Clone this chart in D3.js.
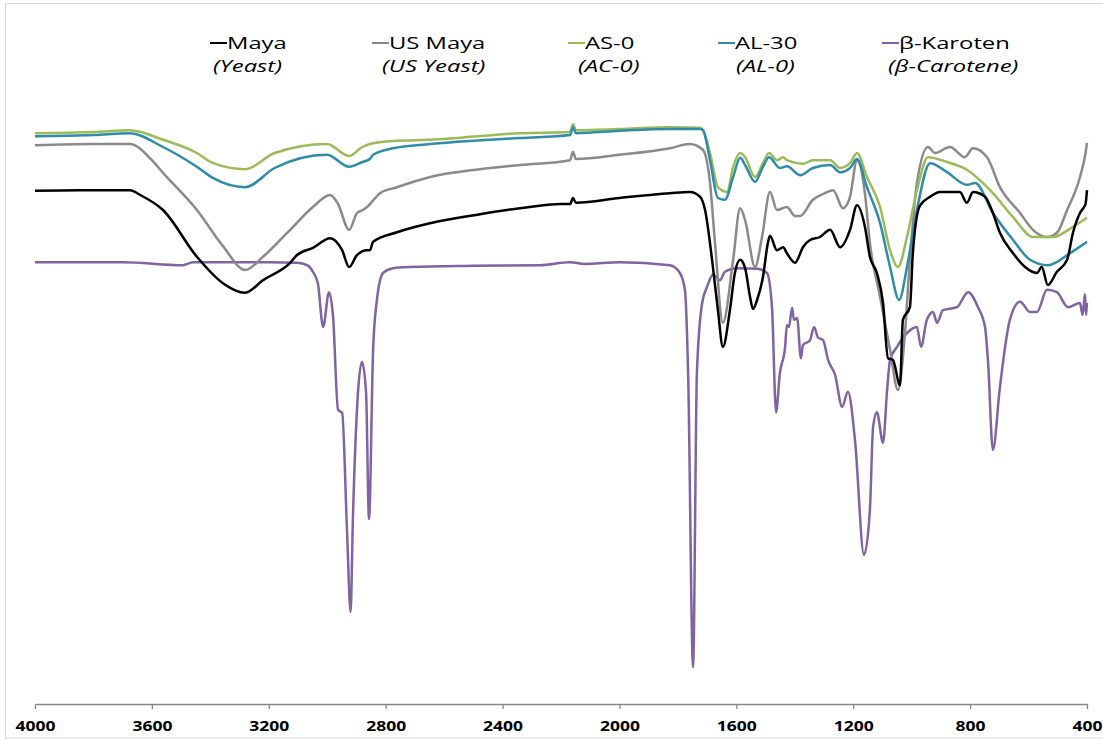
<!DOCTYPE html>
<meta charset="utf-8">
<html>
<head>
<title>FTIR spectra</title>
<script src="https://d3js.org/d3.v7.min.js"></script>
<style>
  body {margin: 0; background: #fff;}
  .axis path, .axis line {stroke: #868686; stroke-width: 1.3px;}
  .axis text {font: bold 14px "Open Sans"; fill: #000;}
  .legend text {font-family: "Open Sans"; font-size: 17px; fill: #000;}
  .line {fill: none; stroke-width: 2.5px; stroke-linejoin: round;}
</style>
</head>
<body>
<svg id="chart" width="1103" height="741"></svg>
<script>
// series names, subtitles, colours
var names = ["Maya", "US Maya", "AS-0", "AL-30", "β-Karoten"];
var subtitles = ["(Yeast)", "(US Yeast)", "(AC-0)", "(AL-0)", "(β-Carotene)"];
var colors = ["#000000", "#8a8a8a", "#9bbb59", "#2f8ca8", "#8064a2"];
var xTicks = [4000, 3600, 3200, 2800, 2400, 2000, 1600, 1200, 800, 400];

// [wavenumber cm-1, transmittance %]
var maya = [[4000,85.7],[3850,85.8],[3675,85.8],[3640,85.0],[3562,82.5],[3446,74.7],[3357,70.3],[3281,68.7],
  [3220,70.8],[3127,73.7],[3103,75.0],[3049,76.2],[2990,77.8],[2949,75.8],[2925,73.0],[2898,75.0],[2864,75.8],
  [2854,75.8],[2843,77.2],[2761,78.8],[2648,80.3],[2477,81.8],[2340,82.8],[2200,83.5],[2169,83.5],[2159,84.5],
  [2149,83.7],[2000,84.5],[1827,85.3],[1759,85.5],[1724,84.7],[1707,82.5],[1683,74.2],[1663,65.8],[1646,59.7],
  [1622,65.8],[1605,72.0],[1587,74.2],[1570,72.8],[1553,68.0],[1543,66.0],[1529,67.5],[1509,71.3],[1492,77.0],
  [1485,78.2],[1461,75.8],[1440,76.3],[1427,75.3],[1399,73.7],[1372,76.3],[1348,77.5],[1314,78.0],[1279,79.2],
  [1245,76.3],[1211,79.2],[1187,83.3],[1160,79.7],[1143,74.7],[1119,72.0],[1098,67.0],[1081,57.8],[1064,57.5],
  [1040,53.3],[1030,64.2],[1006,66.3],[996,75.3],[972,83.2],[937,84.7],[903,85.5],[835,85.5],[811,83.7],
  [790,85.5],[749,84.7],[722,82.0],[698,78.7],[653,75.3],[612,73.0],[571,72.0],[555,73.0],[534,70.0],
  [503,72.2],[468,74.2],[448,78.7],[424,82.0],[410,83.0],[405,83.5],[400,85.8]];

var usMaya = [[4000,93.3],[3800,93.5],[3675,93.5],[3600,90.8],[3562,88.7],[3446,82.5],[3357,76.5],[3281,72.5],
  [3220,74.7],[3127,79.2],[3049,83.0],[2990,85.0],[2963,83.5],[2925,79.2],[2898,82.0],[2878,82.5],[2864,83.0],
  [2819,85.3],[2761,86.3],[2648,88.0],[2477,89.3],[2340,90.0],[2169,90.8],[2159,92.2],[2149,91.0],[2000,91.7],
  [1827,92.8],[1759,93.5],[1714,92.5],[1690,87.0],[1673,77.0],[1646,63.7],[1611,74.2],[1587,82.8],[1570,80.8],
  [1536,73.0],[1512,78.0],[1485,85.5],[1461,82.5],[1427,83.0],[1399,81.5],[1382,81.5],[1338,84.2],[1297,85.3],
  [1269,85.8],[1235,82.8],[1211,84.7],[1187,90.8],[1160,85.3],[1143,77.0],[1108,68.0],[1074,59.2],[1047,52.5],
  [1023,62.0],[1006,74.2],[982,87.0],[944,93.0],[920,92.0],[869,93.0],[818,91.3],[790,92.8],[742,91.3],
  [698,86.3],[629,82.0],[585,79.2],[537,78.0],[503,78.7],[468,82.5],[424,88.0],[405,92.0],[400,93.7]];

var as0 = [[4000,95.3],[3800,95.5],[3675,95.8],[3562,94.2],[3446,92.0],[3390,90.3],[3281,89.3],[3180,92.0],
  [3001,93.5],[2925,91.5],[2880,93.0],[2854,93.5],[2775,94.0],[2648,94.2],[2340,95.3],[2169,95.5],[2159,96.8],
  [2149,95.8],[2000,96.0],[1827,96.3],[1724,96.2],[1714,95.8],[1690,92.0],[1663,86.3],[1632,85.5],[1611,89.7],
  [1587,92.0],[1570,91.3],[1536,88.0],[1509,90.3],[1488,92.0],[1461,90.8],[1440,91.3],[1427,90.8],[1372,90.2],
  [1338,90.8],[1279,90.8],[1245,89.5],[1211,90.3],[1187,92.0],[1153,88.0],[1108,83.0],[1074,75.8],[1047,73.0],
  [1016,78.0],[982,85.8],[944,91.3],[879,90.5],[811,89.2],[722,85.3],[653,81.3],[585,78.0],[516,78.0],
  [448,79.7],[400,81.2]];

var al30 = [[4000,94.8],[3800,95.0],[3675,95.3],[3562,93.0],[3446,89.7],[3390,87.8],[3281,86.3],[3180,89.5],
  [3001,91.7],[2925,89.7],[2880,90.5],[2854,91.0],[2843,91.7],[2775,92.8],[2648,93.5],[2340,94.5],[2169,95.0],
  [2159,96.3],[2149,95.3],[2000,95.7],[1827,96.0],[1724,96.0],[1714,95.8],[1690,90.8],[1663,84.5],[1639,84.2],
  [1611,88.0],[1587,91.2],[1570,90.0],[1536,87.2],[1509,89.7],[1488,91.3],[1451,89.5],[1427,89.8],[1382,88.3],
  [1338,89.5],[1279,90.0],[1245,88.8],[1211,89.5],[1187,91.0],[1153,86.3],[1108,80.3],[1074,73.0],[1043,67.5],
  [1016,73.0],[982,82.5],[937,90.3],[879,88.8],[811,86.7],[783,87.0],[722,82.0],[653,77.5],[595,74.2],
  [534,73.3],[458,75.3],[400,77.2]];

var karoten = [[4000,73.8],[3700,73.8],[3494,73.3],[3459,73.8],[3200,73.8],[3103,73.7],[3069,73.3],[3049,72.2],
  [3032,70.3],[3014,63.0],[2994,68.8],[2980,64.7],[2963,49.2],[2949,48.7],[2932,28.7],[2920,15.5],[2912,31.3],
  [2881,57.2],[2867,52.0],[2857,31.0],[2843,59.2],[2830,67.5],[2809,72.0],[2775,72.8],[2717,73.0],[2500,73.2],
  [2272,73.3],[2169,73.8],[2120,73.5],[2000,73.8],[1827,73.3],[1793,72.0],[1776,69.2],[1765,55.3],[1748,6.3],
  [1735,55.3],[1717,67.0],[1700,69.7],[1680,71.7],[1656,70.8],[1639,72.2],[1598,72.8],[1529,72.7],[1495,72.0],
  [1478,66.3],[1464,48.8],[1451,55.3],[1433,59.7],[1427,63.3],[1420,63.0],[1409,66.2],[1403,64.2],[1392,64.5],
  [1379,57.8],[1372,60.0],[1348,60.8],[1334,63.0],[1321,61.3],[1303,60.8],[1286,57.5],[1262,55.0],[1238,49.7],
  [1218,52.2],[1194,44.2],[1163,25.0],[1143,32.5],[1132,46.3],[1119,48.8],[1098,43.7],[1084,52.5],[1074,57.5],
  [1050,59.7],[1016,62.0],[982,63.0],[968,59.7],[948,64.2],[927,65.5],[913,63.7],[893,65.8],[845,66.3],
  [807,68.8],[773,66.3],[749,63.0],[739,57.5],[722,42.5],[698,53.0],[664,64.2],[629,67.2],[595,65.5],
  [571,65.5],[537,69.2],[503,68.8],[465,66.3],[424,67.0],[415,65.0],[407,68.5],[403,65.0],[400,67.0]];

var series = [maya, usMaya, as0, al30, karoten];

// layout
var legendX = [210, 372, 568, 718, 882];
var subX = [213, 382, 578, 736, 888];
var stretch = 1.4, tickStretch = 1.25;

var svg = d3.select("#chart");

// light frame round the picture
svg.append("rect")
    .attr("x", 5.5).attr("y", 3.5)
    .attr("width", 1110).attr("height", 734.5)
    .attr("fill", "none").attr("stroke", "#d9d9d9");

var x = d3.scaleLinear().domain([4000, 400]).range([35, 1087]);
var y = d3.scaleLinear().domain([0, 100]).range([705, 105]);

var line = d3.line()
    .x(function(d) { return x(d[0]); })
    .y(function(d) { return y(d[1]); })
    .curve(d3.curveMonotoneX);

var xAxis = d3.axisBottom(x)
    .tickValues(xTicks)
    .tickFormat(d3.format("d"))
    .tickSize(5)
    .tickSizeOuter(0);

var gx = svg.append("g")
    .attr("class", "axis")
    .attr("transform", "translate(0,704)")
    .call(xAxis);
gx.selectAll("text")
    .attr("y", 17)
    .attr("transform", "scale(" + tickStretch + ",1)");

// draw the β-carotene first so the others sit on top as in the original
var order = [4, 1, 2, 3, 0];
order.forEach(function(i) {
  svg.append("path")
      .datum(series[i])
      .attr("class", "line")
      .attr("stroke", colors[i])
      .attr("d", line);
});

var legend = svg.append("g").attr("class", "legend");
names.forEach(function(n, i) {
  var g = legend.append("g").attr("transform", "translate(" + legendX[i] + ",0)");
  g.append("line")
      .attr("x1", 0).attr("x2", 17)
      .attr("y1", 43).attr("y2", 43)
      .attr("stroke", colors[i]).attr("stroke-width", 2);
  g.append("text")
      .attr("transform", "translate(17,49) scale(" + stretch + ",1)")
      .text(n);
  g.append("text")
      .attr("transform", "translate(" + (subX[i] - legendX[i]) + ",72) scale(" + stretch + ",1)")
      .attr("font-style", "italic")
      .text(subtitles[i]);
});
</script>
</body>
</html>
